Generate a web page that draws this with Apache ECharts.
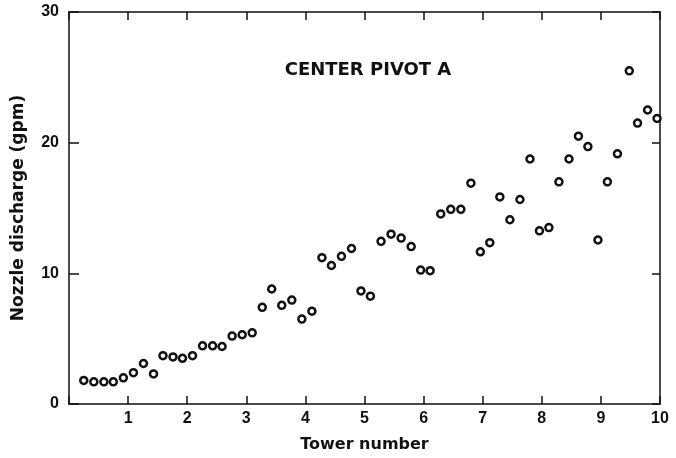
<!DOCTYPE html>
<html>
<head>
<meta charset="utf-8">
<script src="https://cdn.jsdelivr.net/npm/echarts@6/dist/echarts.min.js"></script>
<style>
  html, body { margin: 0; padding: 0; background: #fff; }
  #chart { width: 676px; height: 458px; }
</style>
</head>
<body>
<div id="chart"></div>
<script>
// Datos
const towerX = [
  0.25, 0.42, 0.59, 0.75, 0.92, 1.09, 1.26, 1.43, 1.59, 1.76,
  1.92, 2.09, 2.26, 2.43, 2.59, 2.76, 2.93, 3.10, 3.27, 3.43,
  3.60, 3.77, 3.94, 4.11, 4.28, 4.44, 4.61, 4.78, 4.94, 5.10,
  5.28, 5.45, 5.62, 5.79, 5.95, 6.11, 6.29, 6.46, 6.63, 6.80,
  6.96, 7.12, 7.29, 7.46, 7.63, 7.80, 7.96, 8.12, 8.29, 8.46,
  8.62, 8.78, 8.95, 9.11, 9.28, 9.48, 9.62, 9.79, 9.95
];
const discharge = [
  1.8, 1.7, 1.7, 1.7, 2.0, 2.4, 3.1, 2.3, 3.7, 3.6,
  3.5, 3.7, 4.45, 4.45, 4.4, 5.2, 5.3, 5.45, 7.4, 8.8,
  7.55, 7.95, 6.5, 7.1, 11.2, 10.6, 11.3, 11.9, 8.65, 8.25,
  12.45, 13.0, 12.7, 12.05, 10.25, 10.2, 14.55, 14.9, 14.9, 16.9,
  11.65, 12.35, 15.85, 14.1, 15.65, 18.75, 13.25, 13.5, 17.0, 18.75,
  20.5, 19.7, 12.55, 17.0, 19.15, 25.5, 21.5, 22.5, 21.85
];
const xTicks = [0, 1, 2, 3, 4, 5, 6, 7, 8, 9, 10];
const yTicks = [0, 10, 20, 30];

const points = towerX.map((x, i) => [x, discharge[i]]);
const font = '"Liberation Sans", Arial, sans-serif';
const wideFont = '"DejaVu Sans", sans-serif';

// ejes secundarios: solo marco y marcas hacia dentro
const frameAxis = {
  axisLine: { show: true, onZero: false, lineStyle: { color: '#111', width: 1.5 } },
  axisTick: { show: true, inside: true, length: 8, lineStyle: { color: '#111', width: 1.5 } },
  axisLabel: { show: false },
  splitLine: { show: false }
};

const option = {
  backgroundColor: '#fff',
  animation: false,
  title: {
    text: 'CENTER PIVOT A',
    left: 363,
    top: 56,
    textAlign: 'center',
    textStyle: { fontFamily: wideFont, fontSize: 18, fontWeight: 'bold', color: '#111' }
  },
  grid: { left: 69, right: 16, top: 12, bottom: 53 },
  xAxis: [
    {
      type: 'value',
      min: xTicks[0],
      max: xTicks[xTicks.length - 1],
      interval: 1,
      name: 'Tower number',
      nameLocation: 'middle',
      nameGap: 33,
      nameTextStyle: { fontFamily: wideFont, fontSize: 16, fontWeight: 'bold', color: '#111' },
      axisLine: { onZero: false, lineStyle: { color: '#111', width: 1.5 } },
      axisTick: { inside: true, length: 8, lineStyle: { color: '#111', width: 1.5 } },
      axisLabel: {
        fontFamily: font, fontSize: 16, fontWeight: 'bold', color: '#111', margin: 7,
        formatter: v => (v === 0 ? '' : String(v))
      },
      splitLine: { show: false }
    },
    Object.assign({ type: 'value', position: 'top', min: 0, max: 10, interval: 1 }, frameAxis)
  ],
  yAxis: [
    {
      type: 'value',
      min: yTicks[0],
      max: yTicks[yTicks.length - 1],
      interval: 10,
      name: 'Nozzle discharge (gpm)',
      nameLocation: 'middle',
      nameGap: 42,
      nameTextStyle: { fontFamily: wideFont, fontSize: 17, fontWeight: 'bold', color: '#111' },
      axisLine: { show: true, onZero: false, lineStyle: { color: '#111', width: 1.5 } },
      axisTick: { show: true, inside: true, length: 10, lineStyle: { color: '#111', width: 1.5 } },
      axisLabel: { fontFamily: font, fontSize: 16, fontWeight: 'bold', color: '#111', margin: 10 },
      splitLine: { show: false }
    },
    Object.assign({ type: 'value', position: 'right', min: 0, max: 30, interval: 10 }, frameAxis)
  ],
  series: [
    {
      type: 'scatter',
      data: points,
      symbol: 'circle',
      symbolSize: 7,
      itemStyle: { color: '#fff', borderColor: '#111', borderWidth: 2.5, opacity: 1 }
    }
  ]
};

const chart = echarts.init(document.getElementById('chart'));
chart.setOption(option);
</script>
</body>
</html>
